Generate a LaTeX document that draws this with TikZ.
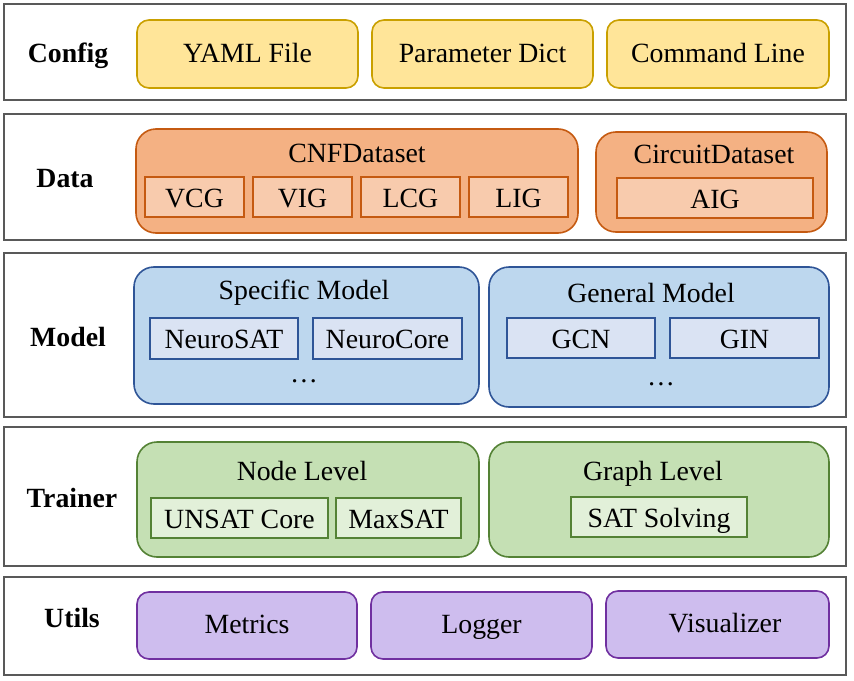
\documentclass[tikz,border=0pt]{standalone}
\usepackage{fontspec}
\setmainfont{Liberation Serif}
\definecolor{layerdraw}{HTML}{595959}
\definecolor{yfill}{HTML}{FFE599}
\definecolor{ydraw}{HTML}{C9A000}
\definecolor{ofill}{HTML}{F4B183}
\definecolor{osub}{HTML}{F8CBAD}
\definecolor{odraw}{HTML}{C55A11}
\definecolor{bfill}{HTML}{BDD7EE}
\definecolor{bsub}{HTML}{DAE3F3}
\definecolor{bdraw}{HTML}{2F5597}
\definecolor{gfill}{HTML}{C5E0B4}
\definecolor{gsub}{HTML}{E2F0D9}
\definecolor{gdraw}{HTML}{548235}
\definecolor{pfill}{HTML}{CEBDEE}
\definecolor{pdraw}{HTML}{7030A0}
\begin{document}
\begin{tikzpicture}[x=1pt,y=-1pt,
  every node/.style={inner sep=0pt, font=\fontsize{27.8}{32}\selectfont},
  layerbox/.style={draw=layerdraw, line width=2pt, fill=white},
  layerlabel/.style={anchor=base, font=\fontsize{27.8}{32}\selectfont\bfseries},
  itembox/.style={rounded corners=12pt, line width=1.6pt, text height=20pt, text depth=4pt},
  groupbox/.style={rounded corners=20pt, line width=1.6pt},
  subbox/.style={line width=1.6pt, text height=24pt, text depth=4pt},
  titletext/.style={anchor=base},
]
\useasboundingbox (0,0) rectangle (854,680);
% layers
\node[layerbox, minimum width=842pt, minimum height=96pt] (Lconfig) at (425,52) {};
\node[layerbox, minimum width=842pt, minimum height=126pt] (Ldata) at (425,177) {};
\node[layerbox, minimum width=842pt, minimum height=164pt] (Lmodel) at (425,335) {};
\node[layerbox, minimum width=842pt, minimum height=139pt] (Ltrainer) at (425,496.5) {};
\node[layerbox, minimum width=842pt, minimum height=98pt] (Lutils) at (425,626) {};
% layer labels
\node[layerlabel] (tconfig) at (68,62) {Config};
\node[layerlabel] (tdata) at (65,187) {Data};
\node[layerlabel] (tmodel) at (68,346) {Model};
\node[layerlabel] (ttrainer) at (72,507) {Trainer};
\node[layerlabel] (tutils) at (72,627) {Utils};
% Config
\node[itembox, draw=ydraw, fill=yfill, minimum width=221pt, minimum height=68pt] (yaml) at (247.5,54) {YAML File};
\node[itembox, draw=ydraw, fill=yfill, minimum width=221pt, minimum height=68pt] (param) at (482.5,54) {Parameter Dict};
\node[itembox, draw=ydraw, fill=yfill, minimum width=222pt, minimum height=68pt] (cmd) at (718,54) {Command Line};
% Data
\node[groupbox, draw=odraw, fill=ofill, minimum width=442pt, minimum height=104pt] (cnf) at (357,181) {};
\node[titletext] (cnft) at (357,162) {CNFDataset};
\node[subbox, draw=odraw, fill=osub, minimum width=99pt, minimum height=40pt] (vcg) at (194.5,197) {VCG};
\node[subbox, draw=odraw, fill=osub, minimum width=99pt, minimum height=40pt] (vig) at (302.5,197) {VIG};
\node[subbox, draw=odraw, fill=osub, minimum width=99pt, minimum height=40pt] (lcg) at (410.5,197) {LCG};
\node[subbox, draw=odraw, fill=osub, minimum width=99pt, minimum height=40pt] (lig) at (518.5,197) {LIG};
\node[groupbox, draw=odraw, fill=ofill, minimum width=231pt, minimum height=100pt] (circ) at (711.5,182) {};
\node[titletext] (circt) at (714,163) {CircuitDataset};
\node[subbox, draw=odraw, fill=osub, minimum width=196pt, minimum height=40pt] (aig) at (715,198) {AIG};
% Model
\node[groupbox, draw=bdraw, fill=bfill, minimum width=345pt, minimum height=137pt] (spec) at (306.5,335.5) {};
\node[titletext] (spect) at (304,299) {Specific Model};
\node[subbox, draw=bdraw, fill=bsub, minimum width=148pt, minimum height=41pt] (nsat) at (224,338.5) {NeuroSAT};
\node[subbox, draw=bdraw, fill=bsub, minimum width=149pt, minimum height=41pt] (ncore) at (387.5,338.5) {NeuroCore};
\node[titletext] (specdots) at (304,382) {\dots};
\node[groupbox, draw=bdraw, fill=bfill, minimum width=340pt, minimum height=140pt] (gen) at (659,337) {};
\node[titletext] (gent) at (651,302) {General Model};
\node[subbox, draw=bdraw, fill=bsub, minimum width=148pt, minimum height=40pt] (gcn) at (581,338) {GCN};
\node[subbox, draw=bdraw, fill=bsub, minimum width=149pt, minimum height=40pt] (gin) at (744.5,338) {GIN};
\node[titletext] (gendots) at (661,385) {\dots};
% Trainer
\node[groupbox, draw=gdraw, fill=gfill, minimum width=342pt, minimum height=115pt] (nodel) at (308,499.5) {};
\node[titletext] (nodelt) at (302,480) {Node Level};
\node[subbox, draw=gdraw, fill=gsub, minimum width=177pt, minimum height=40pt] (unsat) at (239.5,518) {UNSAT Core};
\node[subbox, draw=gdraw, fill=gsub, minimum width=125pt, minimum height=40pt] (maxsat) at (398.5,518) {MaxSAT};
\node[groupbox, draw=gdraw, fill=gfill, minimum width=340pt, minimum height=115pt] (graphl) at (659,499.5) {};
\node[titletext] (graphlt) at (653,480) {Graph Level};
\node[subbox, draw=gdraw, fill=gsub, minimum width=176pt, minimum height=40pt] (satsolv) at (659,517) {SAT Solving};
% Utils
\node[itembox, draw=pdraw, fill=pfill, minimum width=220pt, minimum height=67pt] (metrics) at (247,625.5) {Metrics};
\node[itembox, draw=pdraw, fill=pfill, minimum width=221pt, minimum height=67pt] (logger) at (481.5,625.5) {Logger};
\node[itembox, draw=pdraw, fill=pfill, minimum width=223pt, minimum height=67pt] (visual) at (717.5,624.5) {};
\node[text height=20pt, text depth=4pt] (visualt) at (725,624.5) {Visualizer};
\end{tikzpicture}
\end{document}
